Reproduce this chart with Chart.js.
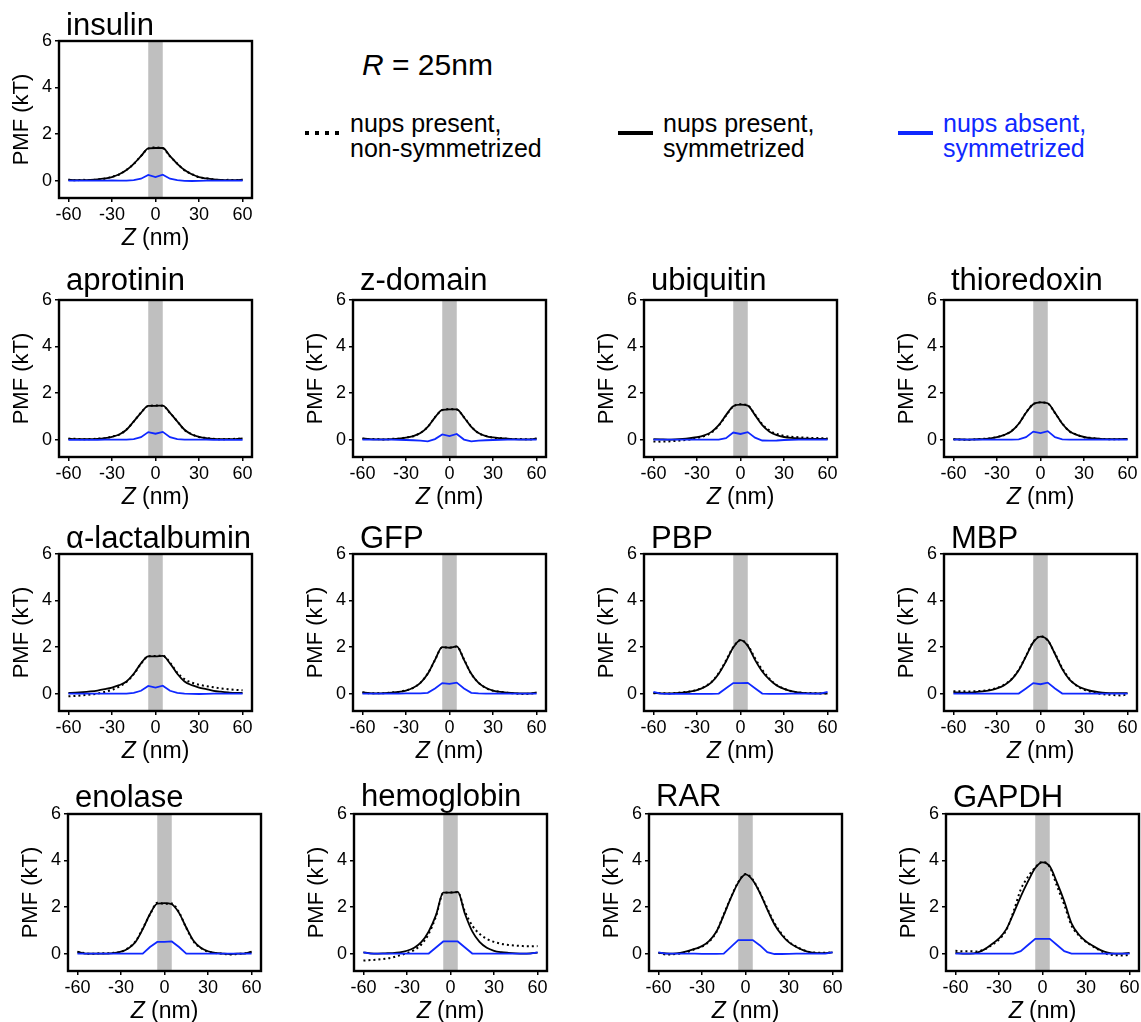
<!DOCTYPE html>
<html>
<head>
<meta charset="utf-8">
<script src="https://cdn.jsdelivr.net/npm/chart.js@4.4.1/dist/chart.umd.min.js"></script>
<style>
  html, body { margin: 0; padding: 0; background: #fff; overflow: hidden; }
  body { width: 1141px; height: 1022px; position: relative; font-family: 'Liberation Sans', Arial, sans-serif; }
  canvas { position: absolute; }
  .txt { position: absolute; white-space: nowrap; color: #000; }
  .big { font-size: 30px; line-height: 30px; }
  .leg { font-size: 25px; line-height: 25px; }
  .mark { position: absolute; height: 4px; }
</style>
</head>
<body>

<div class="txt big" style="left:362px; top:50px;"><i>R</i> = 25nm</div>

<div class="mark" style="left:305px; top:131px; width:36px; background:repeating-linear-gradient(to right,#000 0 4px,transparent 4px 10px);"></div>
<div class="txt leg" style="left:350px; top:111px;">nups present,<br>non-symmetrized</div>

<div class="mark" style="left:618px; top:131px; width:35px; background:#000;"></div>
<div class="txt leg" style="left:663px; top:111px;">nups present,<br>symmetrized</div>

<div class="mark" style="left:898px; top:131px; width:35px; background:rgb(15,40,255);"></div>
<div class="txt leg" style="left:943px; top:111px; color:rgb(15,40,255);">nups absent,<br>symmetrized</div>

<script>
// PMF profiles along the pore axis, one row per protein
const proteins = ['insulin', 'aprotinin', 'z-domain', 'ubiquitin', 'thioredoxin',
  'α-lactalbumin', 'GFP', 'PBP', 'MBP', 'enolase', 'hemoglobin', 'RAR', 'GAPDH'];

const zNm = [-60, -55, -50, -45, -40, -35, -30, -25, -20, -15, -10, -5, 0,
  5, 10, 15, 20, 25, 30, 35, 40, 45, 50, 55, 60];

const xTicks = [-60, -30, 0, 30, 60];
const yTicks = [0, 2, 4, 6];
const bandNm = [-5, 5];

// nups present, non-symmetrized
const pmfNonSym = [
  [0.03,0.01,0.03,0.02,0.05,0.08,0.16,0.26,0.46,0.71,1.06,1.37,1.42,1.39,1.04,0.73,0.44,0.28,0.14,0.10,0.05,0.02,0.03,0.02,0.03],
  [0.03,0.03,0.01,0.02,0.04,0.05,0.13,0.21,0.43,0.77,1.16,1.44,1.46,1.45,1.14,0.79,0.41,0.23,0.11,0.07,0.03,0.01,0.02,0.03,0.04],
  [0.04,0.02,0.02,0.00,0.03,0.04,0.09,0.14,0.29,0.54,0.96,1.27,1.31,1.29,0.96,0.56,0.27,0.16,0.08,0.06,0.03,0.02,0.02,0.01,0.04],
  [-0.08,-0.09,-0.08,-0.06,-0.03,0.00,0.06,0.15,0.30,0.60,1.03,1.42,1.52,1.47,1.08,0.66,0.39,0.24,0.16,0.12,0.10,0.08,0.07,0.06,0.05],
  [0.01,0.00,-0.01,0.01,0.03,0.05,0.11,0.19,0.37,0.67,1.16,1.53,1.60,1.55,1.14,0.69,0.35,0.21,0.10,0.07,0.03,0.02,0.01,0.02,0.02],
  [-0.12,-0.10,-0.07,-0.04,0.00,0.07,0.16,0.30,0.50,0.83,1.28,1.60,1.62,1.63,1.33,0.90,0.62,0.47,0.38,0.32,0.27,0.22,0.19,0.16,0.14],
  [0.06,0.01,0.02,0.01,0.05,0.07,0.14,0.24,0.47,0.86,1.44,1.99,1.98,2.02,1.47,0.84,0.47,0.24,0.12,0.08,0.03,0.01,-0.02,-0.01,0.03],
  [0.01,0.02,0.00,0.02,0.05,0.09,0.16,0.29,0.50,0.88,1.42,2.00,2.30,2.08,1.52,1.02,0.64,0.36,0.21,0.10,0.05,0.02,0.02,0.00,0.00],
  [0.10,0.10,0.09,0.10,0.12,0.16,0.24,0.38,0.62,1.02,1.62,2.22,2.47,2.28,1.72,1.10,0.63,0.33,0.17,0.07,0.00,-0.04,-0.06,-0.08,-0.04],
  [0.06,0.02,-0.01,0.01,0.01,0.03,0.07,0.24,0.52,1.08,1.68,2.18,2.14,2.15,1.78,1.10,0.52,0.24,0.08,0.02,-0.01,-0.04,-0.02,0.01,0.06],
  [-0.30,-0.28,-0.26,-0.22,-0.17,-0.08,0.02,0.15,0.40,0.85,1.60,2.60,2.63,2.64,1.80,1.20,0.85,0.63,0.50,0.42,0.37,0.34,0.32,0.31,0.32],
  [0.04,-0.04,-0.03,0.00,0.07,0.19,0.30,0.52,0.93,1.68,2.42,3.07,3.42,3.18,2.62,1.95,1.30,0.84,0.50,0.30,0.15,0.06,0.04,0.03,0.05],
  [0.12,0.10,0.10,0.09,0.18,0.36,0.60,1.00,1.80,2.75,3.30,3.70,3.95,3.72,2.90,2.10,1.20,0.78,0.50,0.30,0.12,-0.03,-0.07,-0.08,-0.06]
];

// nups present, symmetrized
const pmfSym = [
  [0.04,0.02,0.02,0.03,0.05,0.09,0.15,0.27,0.45,0.72,1.05,1.38,1.40,1.40,1.05,0.72,0.45,0.27,0.15,0.09,0.05,0.03,0.02,0.02,0.04],
  [0.04,0.02,0.02,0.02,0.03,0.06,0.12,0.22,0.42,0.78,1.15,1.45,1.45,1.46,1.15,0.78,0.42,0.22,0.12,0.06,0.03,0.02,0.02,0.02,0.05],
  [0.05,0.02,0.01,0.01,0.02,0.04,0.08,0.15,0.28,0.55,0.95,1.28,1.30,1.30,0.95,0.55,0.28,0.15,0.09,0.06,0.04,0.02,0.01,0.01,0.05],
  [0.02,0.01,0.00,0.01,0.03,0.06,0.10,0.18,0.33,0.62,1.05,1.43,1.50,1.46,1.05,0.62,0.34,0.19,0.11,0.07,0.05,0.04,0.03,0.03,0.03],
  [0.02,0.01,0.00,0.01,0.02,0.05,0.10,0.20,0.36,0.68,1.15,1.52,1.60,1.56,1.15,0.68,0.36,0.20,0.11,0.06,0.04,0.02,0.02,0.02,0.03],
  [0.03,0.04,0.06,0.09,0.13,0.19,0.26,0.36,0.52,0.85,1.30,1.60,1.60,1.62,1.30,0.85,0.52,0.36,0.26,0.19,0.12,0.08,0.05,0.03,0.03],
  [0.05,0.02,0.01,0.02,0.04,0.07,0.13,0.25,0.46,0.85,1.45,2.00,1.97,2.03,1.45,0.85,0.46,0.25,0.13,0.07,0.04,0.02,0.01,0.01,0.05],
  [0.02,0.01,0.01,0.02,0.04,0.08,0.15,0.27,0.48,0.85,1.38,1.98,2.30,2.05,1.45,0.95,0.60,0.35,0.20,0.10,0.05,0.02,0.01,0.01,0.00],
  [0.05,0.04,0.04,0.06,0.09,0.14,0.22,0.36,0.60,1.00,1.60,2.20,2.45,2.30,1.70,1.05,0.60,0.35,0.20,0.11,0.06,0.03,0.02,0.02,0.02],
  [0.08,0.00,0.00,0.00,0.00,0.02,0.08,0.22,0.50,1.05,1.70,2.15,2.17,2.12,1.75,1.12,0.55,0.25,0.10,0.03,0.00,-0.02,0.00,0.00,0.08],
  [0.05,0.01,0.00,0.01,0.02,0.05,0.12,0.25,0.50,0.95,1.65,2.62,2.62,2.65,1.70,0.95,0.50,0.25,0.12,0.06,0.03,0.01,0.00,0.01,0.04],
  [0.03,0.01,0.00,0.03,0.10,0.20,0.32,0.55,0.95,1.65,2.40,3.05,3.40,3.15,2.60,1.90,1.25,0.80,0.48,0.28,0.14,0.05,0.02,0.02,0.05],
  [0.03,0.00,0.00,0.04,0.18,0.40,0.65,1.04,1.72,2.45,3.10,3.68,3.92,3.75,3.05,2.25,1.30,0.82,0.52,0.32,0.15,0.04,0.00,0.00,0.03]
];

// nups absent, symmetrized
const pmfAbsent = [
  [0.00,0.00,0.00,0.00,0.00,0.00,0.01,0.00,0.00,0.02,0.08,0.24,0.15,0.25,0.08,0.02,-0.01,-0.02,-0.01,0.00,0.00,0.00,0.00,0.00,0.00],
  [-0.01,-0.01,-0.01,-0.01,-0.01,0.00,0.00,0.00,0.00,0.02,0.10,0.32,0.25,0.33,0.10,0.02,0.00,0.00,0.00,0.00,-0.01,-0.01,-0.01,-0.01,-0.01],
  [0.00,0.00,0.00,0.00,0.00,-0.01,-0.02,-0.03,-0.05,-0.08,0.02,0.22,0.15,0.24,0.00,-0.08,-0.05,-0.03,-0.02,-0.01,0.00,0.00,0.00,0.00,0.00],
  [0.00,0.00,0.00,0.00,0.00,0.00,0.00,0.00,0.00,0.00,0.06,0.30,0.24,0.32,0.08,-0.04,-0.05,-0.04,-0.02,-0.01,0.00,0.00,0.00,0.00,0.00],
  [0.00,0.00,0.00,0.00,0.00,0.00,0.00,0.00,0.00,0.01,0.10,0.34,0.28,0.36,0.10,0.01,0.00,0.00,0.00,0.00,0.00,0.00,0.00,0.00,0.00],
  [0.00,0.00,0.00,0.00,0.00,0.00,0.00,0.00,0.00,0.03,0.12,0.33,0.26,0.34,0.12,0.03,0.00,-0.01,-0.02,-0.01,0.00,0.00,0.00,0.00,0.00],
  [0.00,0.00,0.00,0.00,0.00,0.00,0.01,0.01,0.01,0.03,0.22,0.45,0.42,0.47,0.22,0.03,0.01,0.00,0.00,0.00,0.00,0.00,0.00,0.00,0.00],
  [0.07,0.00,-0.01,-0.01,-0.01,-0.01,-0.01,-0.01,-0.01,0.00,0.23,0.45,0.45,0.46,0.23,0.00,-0.01,-0.01,-0.01,0.00,0.00,0.00,0.00,0.00,0.07],
  [0.00,0.00,0.00,0.00,0.00,0.00,0.00,0.00,0.00,0.00,0.22,0.45,0.40,0.47,0.22,0.00,0.00,0.00,0.00,0.00,0.00,0.00,0.00,0.00,0.00],
  [0.00,0.00,0.00,0.00,0.00,0.00,0.00,0.00,0.00,0.00,0.28,0.50,0.50,0.52,0.28,0.00,0.00,0.00,0.00,0.00,0.00,0.00,0.00,0.00,0.00],
  [0.05,0.00,0.00,0.00,0.00,0.00,0.00,0.00,0.00,0.00,0.26,0.52,0.52,0.52,0.26,0.00,0.00,0.00,0.00,0.00,0.00,0.00,0.00,0.00,0.05],
  [0.05,0.00,0.00,0.00,0.00,0.00,-0.01,-0.01,-0.01,0.00,0.29,0.58,0.58,0.58,0.35,0.06,-0.02,-0.02,-0.01,0.00,0.00,0.00,0.00,0.00,0.05],
  [0.00,0.00,0.00,0.00,0.00,0.00,0.00,0.00,0.00,0.10,0.37,0.63,0.63,0.63,0.37,0.10,0.00,0.00,0.00,0.00,0.00,0.00,0.00,0.00,0.00]
];

// where each panel's plot box sits on the page: [left, top, title gap]
const boxes = [
  [59, 41, 6],
  [59, 300, 10], [353, 300, 10], [644, 300, 10], [944, 300, 10],
  [59, 554, 6], [353, 554, 6], [644, 554, 6], [944, 554, 6],
  [68, 814, 7], [354, 814, 8], [649, 814, 8], [946, 814, 7]
];

const FONT = "'Liberation Sans', Arial, sans-serif";
const BLUE = 'rgb(15,40,255)';
Chart.defaults.font.family = FONT;
Chart.defaults.color = '#000';

// gray pore band, black frame, panel title and italic-Z axis label
const panelDecor = {
  id: 'panelDecor',
  beforeDatasetsDraw(chart) {
    const { ctx, chartArea: a, scales: { x } } = chart;
    const x0 = x.getPixelForValue(bandNm[0]);
    const x1 = x.getPixelForValue(bandNm[1]);
    ctx.save();
    ctx.fillStyle = '#bfbfbf';
    ctx.fillRect(x0, a.top, x1 - x0, a.bottom - a.top);
    ctx.restore();
  },
  afterDraw(chart, args, opts) {
    const { ctx, chartArea: a } = chart;
    ctx.save();
    ctx.strokeStyle = '#000';
    ctx.lineWidth = 2.4;
    ctx.strokeRect(a.left, a.top, a.right - a.left, a.bottom - a.top);

    ctx.fillStyle = '#000';
    ctx.textBaseline = 'alphabetic';
    ctx.textAlign = 'left';
    ctx.font = '31px ' + FONT;
    ctx.fillText(opts.title, a.left + 7, a.top - opts.gap);

    ctx.font = 'italic 23px ' + FONT;
    const wz = ctx.measureText('Z').width;
    ctx.font = '23px ' + FONT;
    const wr = ctx.measureText(' (nm)').width;
    const cx = (a.left + a.right) / 2;
    const by = a.bottom + 47;
    const sx = cx - (wz + wr) / 2;
    ctx.font = 'italic 23px ' + FONT;
    ctx.fillText('Z', sx, by);
    ctx.font = '23px ' + FONT;
    ctx.fillText(' (nm)', sx + wz, by);
    ctx.restore();
  }
};

function pts(ys) {
  return zNm.map((z, k) => ({ x: z, y: ys[k] }));
}

const axisCommon = {
  type: 'linear',
  grid: { drawOnChartArea: false, drawTicks: true, color: '#000', lineWidth: 1.5, tickLength: 4 },
  border: { display: false },
  ticks: { color: '#000', font: { size: 18 }, autoSkip: false, maxRotation: 0 }
};

proteins.forEach((name, i) => {
  const [bl, bt, gap] = boxes[i];
  const cv = document.createElement('canvas');
  cv.width = 272;
  cv.height = 256;
  cv.style.left = (bl - 59) + 'px';
  cv.style.top = (bt - 41) + 'px';
  document.body.appendChild(cv);

  new Chart(cv, {
    type: 'line',
    data: {
      datasets: [
        { data: pts(pmfAbsent[i]), borderColor: BLUE, borderWidth: 1.8, pointRadius: 0, tension: 0 },
        { data: pts(pmfSym[i]), borderColor: '#000', borderWidth: 1.8, pointRadius: 0, cubicInterpolationMode: 'monotone' },
        { data: pts(pmfNonSym[i]), borderColor: '#000', borderWidth: 2, borderDash: [2, 3], pointRadius: 0, cubicInterpolationMode: 'monotone' }
      ]
    },
    options: {
      responsive: false,
      animation: false,
      events: [],
      layout: { padding: { left: 0, top: 41, right: 20, bottom: 0 } },
      plugins: {
        legend: { display: false },
        tooltip: { enabled: false },
        panelDecor: { title: name, gap: gap }
      },
      scales: {
        x: {
          ...axisCommon,
          min: -66.5, max: 66.5,
          ticks: { ...axisCommon.ticks, padding: 2 },
          afterBuildTicks: s => { s.ticks = xTicks.map(v => ({ value: v })); },
          afterFit: s => { s.height = 58; }
        },
        y: {
          ...axisCommon,
          min: -0.75, max: 6,
          ticks: { ...axisCommon.ticks, padding: 3 },
          afterBuildTicks: s => { s.ticks = yTicks.map(v => ({ value: v })); },
          afterFit: s => { s.width = 59; },
          title: { display: true, text: 'PMF (kT)', color: '#000', font: { size: 22 }, padding: { top: 9, bottom: 0 } }
        }
      }
    },
    plugins: [panelDecor]
  });
});
</script>
</body>
</html>
